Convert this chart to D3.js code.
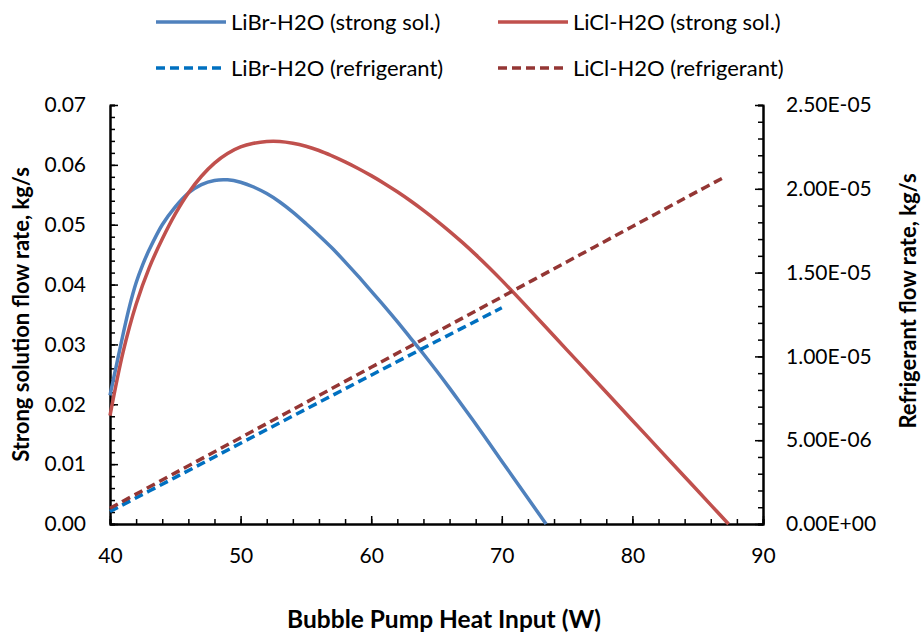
<!DOCTYPE html>
<html>
<head>
<meta charset="utf-8">
<script src="https://cdn.jsdelivr.net/npm/d3@7"></script>
<style>
  body { margin: 0; background: #fff; }
  svg { display: block; font-family: Lato, "Open Sans", sans-serif; }
  .axis text { font-family: Lato, "Open Sans", sans-serif; font-size: 21px; fill: #000; }
  .axis path, .axis line { stroke: #000; }
</style>
</head>
<body>
<svg id="chart" width="922" height="634"></svg>
<script>
// heat input (W) for the strong solution curves
let libr_q = [40, 40.5, 41, 41.5, 42, 42.5, 43, 44, 45, 46, 47, 48, 49, 50, 51, 52, 53, 54, 55, 56, 57, 58, 59, 60,
              61, 62, 63, 64, 65, 66, 67, 68, 69, 70, 71, 72, 73, 73.39];
let libr_strong = [0.0215, 0.0266, 0.0317, 0.0364, 0.0403, 0.0433, 0.0458, 0.0500, 0.0530, 0.0553, 0.0567, 0.0574,
                   0.0575, 0.0571, 0.0563, 0.0552, 0.0538, 0.0521, 0.0502, 0.0482, 0.0461, 0.0438, 0.0414, 0.0389,
                   0.0364, 0.0338, 0.0311, 0.0284, 0.0256, 0.0227, 0.0197, 0.0167, 0.0136, 0.0105,
                   0.0074, 0.0043, 0.0012, 0.0];

let licl_q = [40, 41, 42, 43, 44, 45, 46, 47, 48, 49, 50, 51, 52, 53, 54, 55, 56, 57, 58, 59, 60,
              61, 62, 63, 64, 65, 66, 67, 68, 69, 70, 72, 74, 76, 78, 80, 82, 84, 86, 87.36];
let licl_strong = [0.0181, 0.0287, 0.0367, 0.0428, 0.0476, 0.0518, 0.0553, 0.0581, 0.0603, 0.0619, 0.0630,
                   0.0636, 0.0639, 0.0639, 0.0636, 0.0631, 0.0624, 0.0615, 0.0605, 0.0594, 0.0582,
                   0.0569, 0.0555, 0.0540, 0.0524, 0.0507, 0.0489, 0.0470, 0.0450, 0.0429, 0.0407,
                   0.0361, 0.0314, 0.0267, 0.0220, 0.0173, 0.0126, 0.0079, 0.0032, 0.0];

// refrigerant flow (kg/s), right axis
let libr_ref_q = [40, 45, 50, 55, 60, 65, 70];
let libr_ref = [0.75e-6, 2.78e-6, 4.82e-6, 6.85e-6, 8.88e-6, 10.9e-6, 12.9e-6];
let licl_ref_q = [40, 45, 50, 55, 60, 65, 70, 75, 80, 85, 87.1];
let licl_ref = [0.94e-6, 3.05e-6, 5.15e-6, 7.25e-6, 9.35e-6, 11.45e-6, 13.55e-6, 15.65e-6, 17.75e-6, 19.85e-6, 20.72e-6];

let xTicks = [40, 50, 60, 70, 80, 90];
let yTicks = [0, 0.01, 0.02, 0.03, 0.04, 0.05, 0.06, 0.07];
let y2Ticks = [0, 5e-6, 10e-6, 15e-6, 20e-6, 25e-6];
let y2Labels = ["0.00E+00", "5.00E-06", "1.00E-05", "1.50E-05", "2.00E-05", "2.50E-05"];

let legendNames = ["LiBr-H2O (strong sol.)", "LiCl-H2O (strong sol.)",
                   "LiBr-H2O (refrigerant)", "LiCl-H2O (refrigerant)"];
let colors = ["#4F81BD", "#C0504D", "#0070C0", "#943634"];

let margin = {top: 105, right: 159, bottom: 110, left: 110};
let width = 922 - margin.left - margin.right;
let height = 634 - margin.top - margin.bottom;

let svg = d3.select("#chart");
let g = svg.append("g").attr("transform", `translate(${margin.left},${margin.top})`);

let x = d3.scaleLinear().domain([40, 90]).range([0, width]);
let y = d3.scaleLinear().domain([0, 0.07]).range([height, 0]);
let y2 = d3.scaleLinear().domain([0, 2.5e-5]).range([height, 0]);

// minor ticks first (inside, short)
g.append("g").attr("class", "axis")
  .call(d3.axisLeft(y).tickValues(d3.range(0, 0.0701, 0.002)).tickSize(-5).tickFormat(""));
g.append("g").attr("class", "axis").attr("transform", `translate(${width},0)`)
  .call(d3.axisRight(y2).tickValues(d3.range(0, 2.501e-5, 1e-6)).tickSize(-5).tickFormat(""));
g.append("g").attr("class", "axis").attr("transform", `translate(0,${height})`)
  .call(d3.axisBottom(x).tickValues(d3.range(40, 90.1, 2)).tickSize(-5).tickFormat(""));

// major ticks + labels
g.append("g").attr("class", "axis")
  .call(d3.axisLeft(y).tickValues(yTicks).tickSizeInner(-8).tickSizeOuter(0).tickPadding(24)
    .tickFormat(d3.format(".2f")));
g.append("g").attr("class", "axis").attr("transform", `translate(${width},0)`)
  .call(d3.axisRight(y2).tickValues(y2Ticks).tickSizeInner(-8).tickSizeOuter(0).tickPadding(23)
    .tickFormat((d, i) => y2Labels[i]));
g.append("g").attr("class", "axis").attr("transform", `translate(0,${height})`)
  .call(d3.axisBottom(x).tickValues(xTicks).tickSizeInner(-8).tickSizeOuter(0).tickPadding(24));

g.selectAll(".axis path").attr("stroke-width", 2);
g.selectAll(".axis line").attr("stroke-width", 1.5);

let line = (yy) => d3.line().x(d => x(d[0])).y(d => yy(d[1])).curve(d3.curveCatmullRom.alpha(0.5));

let series = [
  {q: libr_q, v: libr_strong, s: y, dash: null},
  {q: licl_q, v: licl_strong, s: y, dash: null},
  {q: libr_ref_q, v: libr_ref, s: y2, dash: "9,5"},
  {q: licl_ref_q, v: licl_ref, s: y2, dash: "9,5"}
];

series.forEach((d, i) => {
  g.append("path")
    .datum(d.q.map((q, j) => [q, d.v[j]]))
    .attr("fill", "none")
    .attr("stroke", colors[i])
    .attr("stroke-width", 3.5)
    .attr("stroke-dasharray", d.dash)
    .attr("d", line(d.s));
});

// axis titles
svg.append("text")
  .attr("transform", `translate(29,${margin.top + height / 2}) rotate(-90)`)
  .attr("text-anchor", "middle")
  .attr("font-size", 22).attr("font-weight", "bold")
  .text("Strong solution flow rate, kg/s");
svg.append("text")
  .attr("transform", `translate(916,301) rotate(-90)`)
  .attr("text-anchor", "middle")
  .attr("font-size", 22).attr("font-weight", "bold")
  .text("Refrigerant flow rate, kg/s");
svg.append("text")
  .attr("x", 444).attr("y", 628)
  .attr("text-anchor", "middle")
  .attr("font-size", 24.5).attr("font-weight", "bold")
  .text("Bubble Pump Heat Input (W)");

// legend
let legX = [156, 498];
let legY = [22, 68];
legendNames.forEach((name, i) => {
  let lx = legX[i % 2], ly = legY[Math.floor(i / 2)];
  svg.append("line")
    .attr("x1", lx).attr("x2", lx + 70).attr("y1", ly).attr("y2", ly)
    .attr("stroke", colors[i]).attr("stroke-width", 3.5)
    .attr("stroke-dasharray", series[i].dash);
  svg.append("text")
    .attr("x", lx + 75).attr("y", ly).attr("dy", "0.35em")
    .attr("font-size", 22)
    .text(name);
});
</script>
</body>
</html>
